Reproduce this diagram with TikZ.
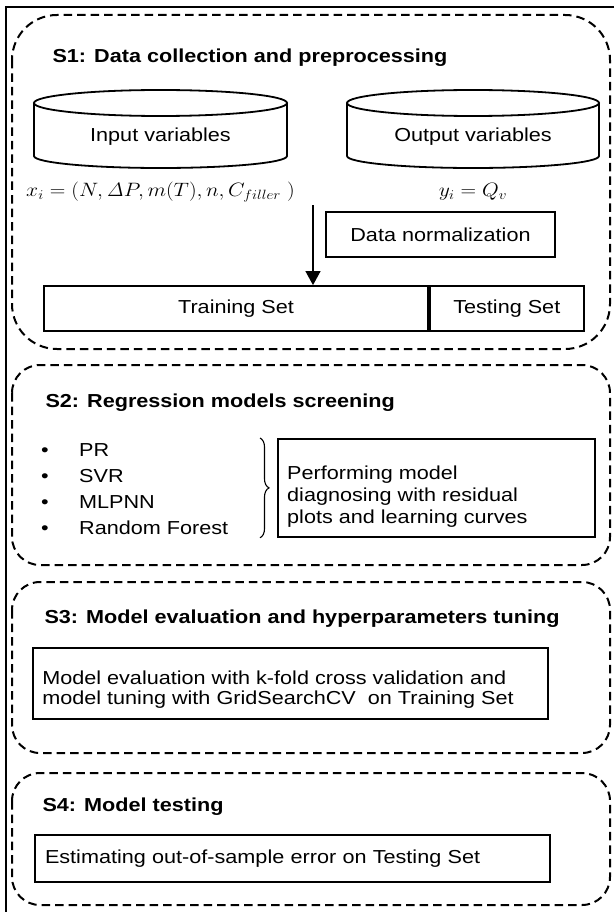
\documentclass[tikz,border=0pt]{standalone}
\usepackage[no-math]{fontspec}
\setmainfont{Liberation Sans}[FakeStretch=1.15]
\usepackage{graphicx}
\usetikzlibrary{arrows.meta,decorations.pathreplacing}

\begin{document}
\begin{tikzpicture}[x=1pt,y=-1pt,
  font=\fontsize{18.8}{21}\selectfont,
  stage/.style={line width=2pt,dash pattern=on 8.5pt off 5pt},
  box/.style={draw,line width=1.8pt,inner sep=0pt},
  title/.style={anchor=base west,font=\fontsize{18.8}{22}\selectfont\bfseries},
  txt/.style={align=left,inner xsep=10pt}]
\useasboundingbox (0,0) rectangle (614,912);
\draw[line width=1.3pt] (614,7) -- (6,7) -- (6,912); % outer frame

% S1
\draw[stage,rounded corners=45pt] (12,15) rectangle (610,349);
\node[title] (t1) at (49,63) {S1: Data collection and preprocessing};
\draw[line width=1.8pt] (160.5,103) ellipse (126.5pt and 13pt);
\draw[line width=1.8pt] (34,103) -- (34,156) arc[start angle=180,end angle=360,x radius=126.5pt,y radius=12pt] -- (287,103);
\node (inp) at (160.5,137) {Input variables};
\draw[line width=1.8pt] (473,103) ellipse (126pt and 13pt);
\draw[line width=1.8pt] (347,103) -- (347,156) arc[start angle=180,end angle=360,x radius=126pt,y radius=12pt] -- (599,103);
\node (out) at (473,137) {Output variables};
\node (xi) at (160.5,192) {\scalebox{1.25}[1.12]{$x_i=\left(N,\mathit{\Delta}P,m(T),n,C_{filler}\;\right)$}};
\node (yi) at (473,192) {\scalebox{1.25}[1.12]{$y_i=Q_v$}};
\node[box,minimum width=229,minimum height=45] (norm) at (440.5,234.5) {Data normalization};
\node[box,minimum width=384,minimum height=45] (train) at (236,308.5) {Training Set};
\node[box,minimum width=154,minimum height=45,anchor=west] (test) at (train.east) {Testing Set};
\coordinate (split) at (313,205);
\draw[line width=1.2pt,-{Triangle[length=14pt,width=15pt]}] (split) -- (split |- train.north);

% S2
\draw[stage,rounded corners=28pt] (12,365) rectangle (610,565);
\node[title] (t2) at (42,407) {S2: Regression models screening};
\node[anchor=north west,align=left,font=\fontsize{18.8}{26}\selectfont,inner sep=0pt] (models) at (41,443)
  {\makebox[38pt][l]{•}PR\\ \makebox[38pt][l]{•}SVR\\ \makebox[38pt][l]{•}MLPNN\\ \makebox[38pt][l]{•}Random Forest};
\node[box,anchor=north west,minimum width=317,minimum height=98] (diag) at (277,438) {};
\node[txt,anchor=west,yshift=-9pt,font=\fontsize{18.8}{22}\selectfont] (diagtxt) at (diag.west)
  {Performing model\\ diagnosing with residual\\ plots and learning curves};
\draw[line width=1.1pt,decorate,decoration={brace,amplitude=9pt}] ([xshift=-17pt]diag.north west) -- ([xshift=-17pt]diag.south west);

% S3
\draw[stage,rounded corners=28pt] (12,582) rectangle (610,753);
\node[title] (t3) at (41,623) {S3: Model evaluation and hyperparameters tuning};
\node[box,minimum width=515,minimum height=71] (cv) at (290.5,683.5) {};
\node[txt,anchor=west,yshift=-6pt,font=\fontsize{18.8}{20}\selectfont] (cvtxt) at (cv.west)
  {Model evaluation with k-fold cross validation and\\ model tuning with GridSearchCV\ \ on Training Set};

% S4
\draw[stage,rounded corners=28pt] (12,773) rectangle (610,905);
\node[title] (t4) at (39,811) {S4: Model testing};
\node[box,txt,minimum height=47,text width=495] (oos) at (292.5,858.5)
  {Estimating out-of-sample error on Testing Set};
\end{tikzpicture}
\end{document}
